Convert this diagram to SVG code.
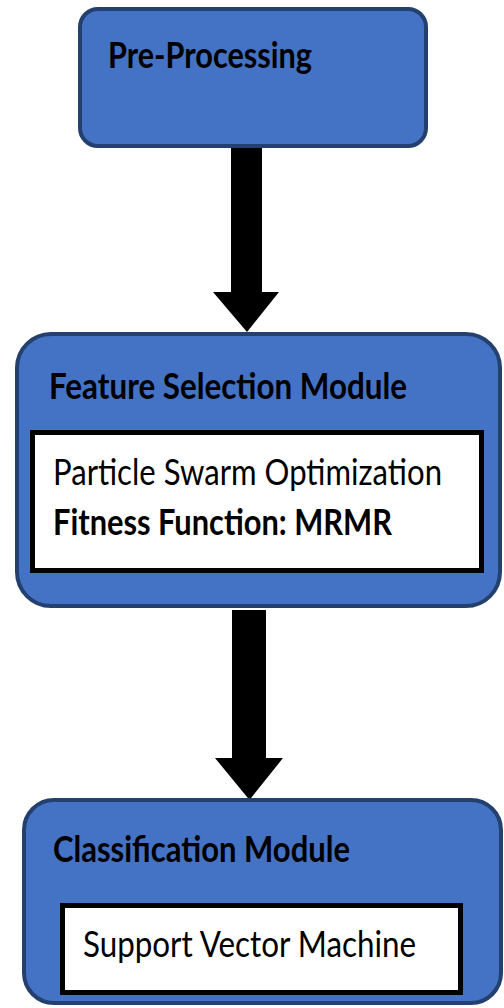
<svg xmlns="http://www.w3.org/2000/svg" width="504" height="1008" viewBox="0 0 504 1008">
<style>
.box{fill:#4472C4;stroke:#24406E;stroke-width:4}
.inner{fill:#FFFFFF;stroke:#000000;stroke-width:5}
.t{font-family:Lato,"Open Sans","Liberation Sans",sans-serif;font-size:36px;fill:#000000}
.b{font-weight:bold}
.arrow{fill:#000000}
</style>
<rect width="504" height="1008" fill="#FFFFFF"/>
<g id="connectors">
<polygon class="arrow" points="231,148 262,148 262,292 279,292 247,332 213,292 231,292"/>
<polygon class="arrow" points="232,610 266,610 266,758 283,758 249.5,800 215,758 232,758"/>
</g>
<g id="preprocessing">
<rect class="box" x="80" y="9" width="346" height="137" rx="18"/>
<text class="t b" x="108" y="68" textLength="204" lengthAdjust="spacingAndGlyphs">Pre-Processing</text>
</g>
<g id="feature-selection">
<rect class="box" x="17" y="334" width="483" height="272" rx="34"/>
<text class="t b" x="49" y="399" textLength="358" lengthAdjust="spacingAndGlyphs">Feature Selection Module</text>
<rect class="inner" x="32.5" y="432.5" width="449" height="138"/>
<text class="t" x="53" y="485" textLength="389" lengthAdjust="spacingAndGlyphs">Particle Swarm Optimization</text>
<text class="t b" x="53" y="535" textLength="339" lengthAdjust="spacingAndGlyphs">Fitness Function: MRMR</text>
</g>
<g id="classification">
<rect class="box" x="24" y="800" width="477" height="203" rx="30"/>
<text class="t b" x="53" y="862" textLength="297" lengthAdjust="spacingAndGlyphs">Classification Module</text>
<rect class="inner" x="62.5" y="905.5" width="398" height="87"/>
<text class="t" x="83" y="957" textLength="333" lengthAdjust="spacingAndGlyphs">Support Vector Machine</text>
</g>
</svg>
